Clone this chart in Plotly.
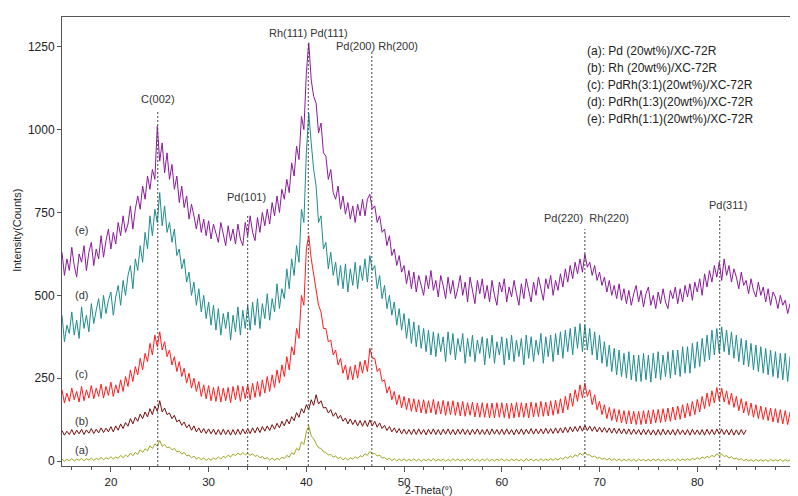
import plotly.graph_objects as go

# 2-theta scan grid (0.25 deg step)
theta = [15 + 0.25 * i for i in range(301)]
theta_b = theta[:281]  # series (b) stops at 85 deg

series_e = [
    630,560,610,575, 645,590,555,625, 600,650,575,630, 660,590,640,610, 680,615,665,700,
    640,690,655,720, 680,740,690,715, 770,700,760,800, 760,830,790,860, 820,880,850,1010,
    905,960,870,930, 850,895,820,860, 780,830,765,800, 730,775,740,700, 745,690,730,680,
    725,670,715,690, 660,720,680,650, 710,665,700,655, 715,670,650,720, 680,740,690,665,
    735,690,750,710, 760,715,780,740, 800,750,820,790, 850,810,900,860, 950,910,1040,1000,
    1170,1262,1150,1100, 1080,990,1020,930, 920,850,880,810, 790,830,760,800, 745,780,730,770,
    720,775,740,790, 740,790,805,760, 770,720,740,690, 700,650,680,620, 640,590,620,570,
    590,535,575,520, 570,510,560,530, 500,560,520,575, 515,545,495,560, 530,490,555,505,
    545,490,520,560, 500,540,480,555, 515,475,545,505, 550,490,530,480, 545,500,470,540,
    510,550,480,525, 495,545,505,470, 535,490,550,510, 480,540,500,555, 515,485,550,520,
    560,500,545,515, 565,525,580,540, 590,550,600,565, 610,570,625,585, 600,560,590,545,
    570,530,555,510, 545,500,530,490, 535,485,520,475, 515,470,505,530, 480,515,465,505,
    525,470,500,460, 510,475,520,480, 460,515,490,525, 475,520,480,530, 495,535,485,540,
    510,550,500,565, 525,575,540,590, 555,600,545,610, 560,590,540,580, 555,520,570,530,
    545,505,550,515, 495,540,500,525, 480,520,470,510, 495,460,500,470, 485,445,475,430,
    440]

series_d = [
    440,360,410,385, 450,380,425,370, 465,400,440,390, 475,415,455,490, 430,500,445,485,
    510,440,495,530, 470,545,500,560, 590,520,610,575, 650,600,690,640, 740,680,760,720,
    810,710,770,690, 720,660,700,620, 640,580,610,540, 570,500,540,470, 520,450,500,430,
    480,410,470,395, 460,380,445,400, 450,365,440,390, 465,380,455,400, 470,395,480,410,
    490,400,475,430, 505,425,490,450, 535,460,520,490, 580,520,610,560, 650,600,760,720,
    930,1050,960,880, 830,720,740,640, 660,580,630,560, 600,530,590,520, 595,510,580,530,
    600,520,590,545, 610,540,620,575, 590,520,560,490, 530,460,500,440, 480,410,460,395,
    445,370,430,355, 420,345,410,340, 400,330,395,320, 390,315,385,330, 375,300,390,320,
    385,305,370,330, 385,295,370,315, 380,300,365,325, 375,290,370,310, 380,295,360,320,
    375,290,370,305, 380,300,365,315, 370,290,380,310, 375,300,365,320, 385,295,375,315,
    380,300,385,320, 390,310,395,330, 400,320,405,340, 415,330,410,335, 400,320,390,305,
    380,295,360,285, 350,270,340,260, 335,255,325,250, 330,245,320,240, 320,240,325,245,
    320,238,325,250, 330,245,320,255, 330,250,335,260, 335,255,345,265, 345,265,355,280,
    360,285,370,300, 380,305,395,320, 400,325,405,330, 395,320,390,310, 380,300,370,290,
    365,285,355,275, 350,270,345,265, 340,260,335,255, 330,250,325,245, 325,240,315,235,
    240]

series_c = [
    215,175,205,180, 220,185,210,178, 225,182,215,190, 228,188,220,195, 232,190,225,198,
    238,195,230,205, 245,210,255,225, 275,240,285,260, 310,275,325,300, 355,320,380,345,
    390,335,360,315, 335,290,315,270, 300,255,280,235, 265,220,250,210, 240,195,230,188,
    228,182,222,180, 225,178,220,182, 222,176,225,185, 228,180,226,188, 232,185,235,192,
    240,195,245,205, 255,210,260,222, 275,235,290,255, 315,275,345,320, 400,370,500,470,
    640,680,610,560, 520,470,450,400, 400,360,365,320, 335,290,310,265, 290,245,285,245,
    290,250,300,265, 305,270,340,310, 310,270,280,240, 245,205,225,185, 210,170,200,160,
    195,155,190,150, 188,148,185,145, 185,143,182,145, 186,140,180,142, 183,138,180,140,
    182,138,178,136, 180,135,176,138, 178,133,175,132, 176,132,174,130, 175,130,176,132,
    176,131,174,128, 175,130,177,132, 176,132,175,130, 178,133,176,134, 180,135,178,136,
    182,138,184,142, 188,145,195,155, 205,165,215,180, 230,190,235,195, 215,170,200,155,
    180,140,170,128, 162,122,158,118, 155,115,152,112, 152,112,150,110, 150,110,152,112,
    153,112,155,115, 156,116,158,118, 160,120,163,124, 166,126,170,130, 174,135,180,140,
    186,148,195,158, 205,165,212,175, 222,182,220,178, 212,170,205,162, 195,152,188,145,
    180,138,175,132, 170,128,166,125, 162,122,160,118, 158,115,155,112, 152,110,148,108,
    135]

series_b = [
    92,78,90,80, 95,79,93,82, 96,80,94,84, 98,83,96,85, 100,86,99,88,
    104,88,106,93, 112,98,116,105, 128,112,132,120, 142,128,148,133, 158,140,166,150,
    182,148,160,140, 145,128,138,118, 124,108,118,100, 110,93,106,88, 100,85,98,83,
    97,82,96,80, 95,79,96,80, 94,78,95,79, 96,80,97,82, 98,83,100,85,
    102,86,104,90, 106,92,110,96, 114,100,120,106, 126,112,134,122, 146,132,158,145,
    170,155,185,168, 200,172,182,160, 162,145,155,135, 146,128,138,120, 130,112,127,110,
    124,106,122,105, 122,104,124,106, 120,102,115,98, 108,92,104,88, 100,85,98,82,
    96,81,95,80, 96,80,97,81, 95,79,96,81, 97,80,95,79, 96,81,97,80,
    95,79,96,81, 97,80,95,79, 96,81,97,80, 95,80,96,79, 97,81,95,80,
    96,80,97,81, 95,79,96,81, 97,80,96,82, 98,81,97,82, 97,82,99,83,
    98,83,100,84, 100,85,102,86, 103,88,104,89, 106,90,108,92, 105,90,104,88,
    102,87,101,86, 100,84,99,83, 98,82,97,81, 97,80,96,81, 95,79,96,80,
    95,79,94,78, 95,78,96,79, 94,79,95,78, 96,80,94,79, 95,78,96,80,
    94,79,95,78, 96,80,95,79, 97,81,96,80, 95,79,96,78, 94,79,95,80,
    94]

series_a = [
    6,-1,5,1, 7,0,6,2, 8,1,7,3, 9,2,8,4, 11,4,10,6,
    13,6,12,8, 17,10,18,13, 24,16,26,20, 34,26,37,31, 46,38,52,45,
    62,44,50,40, 42,34,38,28, 30,21,26,16, 18,10,15,6, 11,4,9,2,
    8,2,9,5, 12,6,14,10, 18,12,21,16, 24,18,26,19, 23,17,22,14,
    17,10,14,6, 10,3,9,2, 8,4,11,8, 17,12,25,20, 38,32,58,50,
    88,105,75,68, 52,40,38,28, 26,18,20,12, 15,8,11,4, 9,3,10,6,
    13,8,16,13, 22,17,29,22, 23,15,18,9, 11,4,9,1, 7,0,6,1,
    6,0,5,1, 7,0,6,-1, 5,1,6,0, 7,0,5,1, 6,-1,5,0,
    7,1,6,0, 5,0,7,1, 6,0,5,-1, 6,1,7,0, 5,0,6,1,
    7,0,5,0, 6,1,6,0, 5,-1,7,1, 6,0,5,1, 7,1,6,2,
    7,2,8,3, 10,5,12,8, 15,10,19,14, 24,17,26,18, 19,12,15,8,
    11,5,9,3, 8,2,7,1, 6,0,5,1, 6,0,5,-1, 6,1,5,0,
    5,0,6,1, 6,0,5,0, 6,1,5,0, 7,1,6,2, 7,2,8,4,
    10,5,12,8, 14,10,17,13, 22,16,21,14, 16,9,13,6, 9,3,7,1,
    5,0,4,-1, 5,0,4,0, 4,-1,5,0, 4,0,5,-1, 4,0,3,0,
    3]

series_tags = ["(a)", "(b)", "(c)", "(d)", "(e)"]
series_tag_y = [33, 120, 263, 500, 698]
legend_lines = ["(a): Pd (20wt%)/XC-72R",
                "(b): Rh (20wt%)/XC-72R",
                "(c): PdRh(3:1)(20wt%)/XC-72R",
                "(d): PdRh(1:3)(20wt%)/XC-72R",
                "(e): PdRh(1:1)(20wt%)/XC-72R"]
legend_y = [1236, 1186, 1135, 1084, 1033]

peak_pos = [24.8, 34.0, 40.2, 46.7, 68.5, 82.3]
peak_top = [1057, 742, 1262, 1236, 700, 742]
peak_labels = ["C(002)", "Pd(101)", "Rh(111) Pd(111)", "Pd(200) Rh(200)",
               "Pd(220)\u00a0 Rh(220)", "Pd(311)"]
peak_label_x = [24.8, 33.9, 40.2, 47.2, 68.7, 83.1]
peak_label_y = [1093, 796, 1293, 1251, 733, 772]

colors = {"a": "#a0a51e", "b": "#7a0c0c", "c": "#ff1c1c", "d": "#1f8c8e", "e": "#8c1a9c"}

fig = go.Figure()
for key, xs, ys in [("a", theta, series_a), ("b", theta_b, series_b),
                    ("c", theta, series_c), ("d", theta, series_d),
                    ("e", theta, series_e)]:
    fig.add_trace(go.Scatter(x=xs, y=ys, mode="lines",
                             line=dict(color=colors[key], width=1),
                             showlegend=False, hoverinfo="skip"))

for xp, yt in zip(peak_pos, peak_top):
    fig.add_trace(go.Scatter(x=[xp, xp], y=[-15, yt], mode="lines",
                             line=dict(color="#444444", width=1, dash="2px,2px"),
                             showlegend=False, hoverinfo="skip"))

font_fam = "Arial, Liberation Sans, sans-serif"
annotations = []
for t, yv in zip(series_tags, series_tag_y):
    annotations.append(dict(x=17.0, y=yv, text=t, showarrow=False, xref="x", yref="y",
                            font=dict(size=11, color="#333333", family=font_fam)))
for t, xv, yv in zip(peak_labels, peak_label_x, peak_label_y):
    annotations.append(dict(x=xv, y=yv, text=t, showarrow=False, xref="x", yref="y",
                            font=dict(size=11, color="#333333", family=font_fam)))
for t, yv in zip(legend_lines, legend_y):
    annotations.append(dict(x=68.5, y=yv, text=t, showarrow=False, xref="x", yref="y",
                            xanchor="left",
                            font=dict(size=12, color="#222222", family=font_fam)))
# axis titles
annotations.append(dict(x=0.5, y=-0.0535, xref="paper", yref="paper", text="2-Theta(°)",
                        showarrow=False, yanchor="middle",
                        font=dict(size=10.5, color="#222222", family=font_fam)))
annotations.append(dict(x=-0.0614, y=0.526, xref="paper", yref="paper", text="Intensity(Counts)",
                        showarrow=False, textangle=-90, xanchor="center", yanchor="middle",
                        font=dict(size=11, color="#222222", family=font_fam)))

# the page adds an 8px body margin, so the figure is sized to fit the window
fig.update_layout(
    width=790, height=488,
    margin=dict(l=54, r=3, t=9, b=30),
    paper_bgcolor="white", plot_bgcolor="white",
    font=dict(family=font_fam, size=12, color="#222222"),
    annotations=annotations,
    xaxis=dict(range=[15, 90], tickvals=[20, 30, 40, 50, 60, 70, 80, 90],
               ticks="outside", ticklen=5, tickcolor="#555555",
               minor=dict(dtick=2, tick0=16, ticks="outside", ticklen=3, tickcolor="#555555"),
               showline=True, linecolor="#555555", linewidth=1, mirror=True,
               showgrid=False, zeroline=False, automargin=False,
               tickfont=dict(size=11.5, color="#222222")),
    yaxis=dict(range=[-15, 1340], tickvals=[0, 250, 500, 750, 1000, 1250],
               ticks="outside", ticklen=4, tickcolor="#555555",
               showline=True, linecolor="#555555", linewidth=1, mirror=True,
               showgrid=False, zeroline=False, automargin=False,
               tickfont=dict(size=12, color="#222222")),
)

fig.write_html("out.html")
